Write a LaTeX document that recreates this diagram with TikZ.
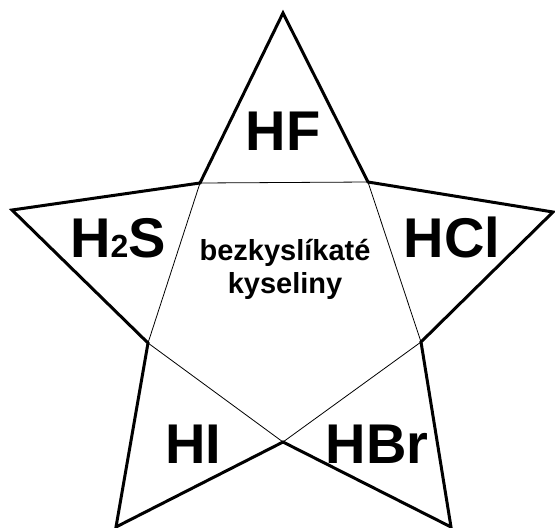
\documentclass[tikz,border=0pt]{standalone}
\usepackage{fontspec}
\setmainfont{Liberation Sans}
\begin{document}
\begin{tikzpicture}[x=1pt,y=-1pt,
  outline/.style={line width=3pt,line join=miter},
  inner/.style={line width=0.8pt},
  big/.style={font=\fontsize{56}{60}\selectfont\bfseries,anchor=base,inner sep=0pt},
  mid/.style={font=\fontsize{29}{33}\selectfont\bfseries,anchor=base,inner sep=0pt}]
\useasboundingbox (0,0) rectangle (555,528);
% star points
\coordinate (T) at (283,13);
\coordinate (R) at (553,212);
\coordinate (BR) at (451,527);
\coordinate (BL) at (116,527);
\coordinate (L) at (12,210);
% inner vertices
\coordinate (iUR) at (368,182);
\coordinate (iR) at (421,342);
\coordinate (iB) at (283,442);
\coordinate (iL) at (148,343);
\coordinate (iUL) at (200,183);
\draw[inner] (iUL) -- (iUR) -- (iR) -- (iB) -- (iL) -- cycle;
\draw[outline] (T) -- (iUR) -- (R) -- (iR) -- (BR) -- (iB) -- (BL) -- (iL) -- (L) -- (iUL) -- cycle;
\node[big] (hf) at (283,150) {HF};
\node[big] (h2s) at (118,257) {H{\fontsize{32}{34}\selectfont 2}S};
\node[big] (hcl) at (452,257) {HCl};
\node[big] (hi) at (193,463) {HI};
\node[big] (hbr) at (377,463) {HBr};
\node[mid] (t1) at (285,260) {bezkyslíkaté};
\node[mid] (t2) at (285,293) {kyseliny};
\end{tikzpicture}
\end{document}
